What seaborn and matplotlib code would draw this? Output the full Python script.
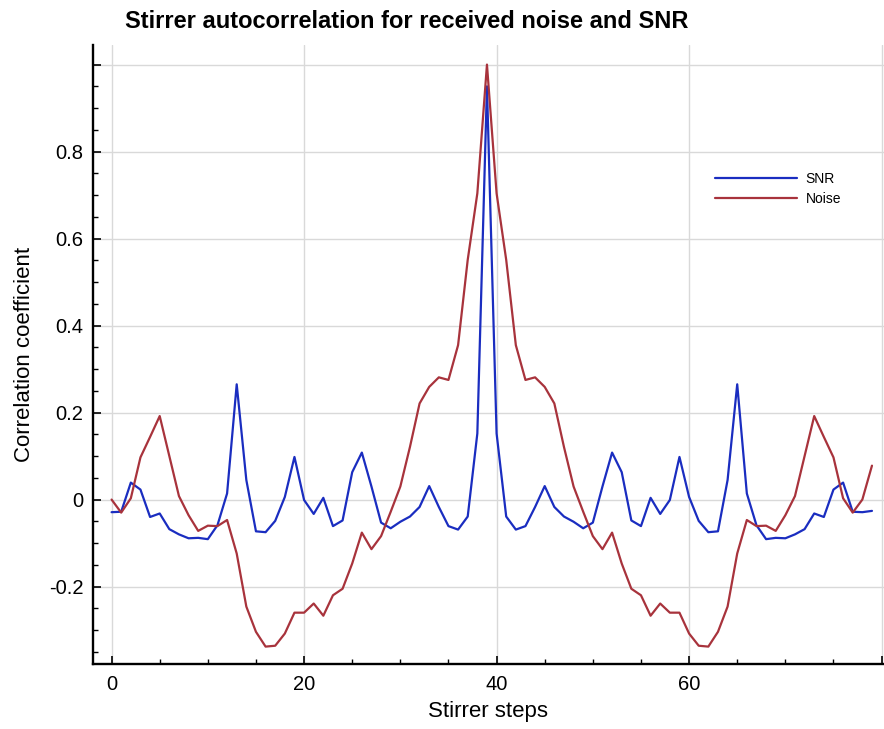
import numpy as np
import pandas as pd
import matplotlib
matplotlib.use("Agg")
import matplotlib.pyplot as plt
from matplotlib.ticker import MultipleLocator
import seaborn as sns

# Autocorrelation versus stirrer step offset
steps = list(range(80))

snr = [
    -0.029, -0.028, 0.039, 0.023, -0.040, -0.032, -0.068, -0.080, -0.089, -0.088,
    -0.091, -0.059, 0.014, 0.265, 0.045, -0.073, -0.075, -0.049, 0.006, 0.098,
    -0.001, -0.033, 0.004, -0.061, -0.048, 0.063, 0.108, 0.030, -0.053, -0.066,
    -0.051, -0.039, -0.017, 0.031, -0.017, -0.061, -0.069, -0.039, 0.152, 0.950,
    0.152, -0.039, -0.069, -0.061, -0.017, 0.031, -0.017, -0.039, -0.051, -0.066,
    -0.053, 0.030, 0.108, 0.063, -0.048, -0.061, 0.004, -0.033, -0.001, 0.098,
    0.006, -0.049, -0.075, -0.073, 0.045, 0.265, 0.014, -0.059, -0.091, -0.088,
    -0.089, -0.080, -0.068, -0.032, -0.040, 0.023, 0.039, -0.028, -0.029, -0.026,
]

noise = [
    0.000, -0.030, 0.003, 0.097, 0.144, 0.192, 0.100, 0.008, -0.036, -0.072,
    -0.060, -0.061, -0.047, -0.124, -0.246, -0.304, -0.338, -0.336, -0.308, -0.260,
    -0.260, -0.239, -0.267, -0.220, -0.205, -0.147, -0.076, -0.114, -0.084, -0.028,
    0.030, 0.121, 0.221, 0.259, 0.281, 0.275, 0.355, 0.551, 0.704, 1.000,
    0.704, 0.551, 0.355, 0.275, 0.281, 0.259, 0.221, 0.121, 0.030, -0.028,
    -0.084, -0.114, -0.076, -0.147, -0.205, -0.220, -0.267, -0.239, -0.260, -0.260,
    -0.308, -0.336, -0.338, -0.304, -0.246, -0.124, -0.047, -0.061, -0.060, -0.072,
    -0.036, 0.008, 0.100, 0.192, 0.144, 0.097, 0.003, -0.030, 0.000, 0.078,
]

series_names = ["SNR", "Noise"]
series_colors = {"SNR": "#1a2dc0", "Noise": "#a8333c"}

x_ticks = [0, 20, 40, 60, 80]
x_tick_labels = ["0", "20", "40", "60", ""]
y_ticks = [-0.2, 0.0, 0.2, 0.4, 0.6, 0.8, 1.0]
y_tick_labels = ["-0.2", "0", "0.2", "0.4", "0.6", "0.8", ""]

df = pd.concat([
    pd.DataFrame({"step": steps, "value": snr, "series": "SNR"}),
    pd.DataFrame({"step": steps, "value": noise, "series": "Noise"}),
], ignore_index=True)

sns.set_style("white")
plt.rcParams["font.family"] = ["Liberation Sans", "DejaVu Sans"]
plt.rcParams.update({
    "text.color": "black",
    "axes.labelcolor": "black",
    "xtick.color": "black",
    "ytick.color": "black",
})

fig = plt.figure(figsize=(8.84, 7.29), dpi=100)
ax = fig.add_axes([93 / 884, 65 / 729, 791 / 884, 619 / 729])

sns.lineplot(data=df, x="step", y="value", hue="series", hue_order=series_names,
             palette=series_colors, linewidth=1.6, ax=ax, legend=True)

ax.set_xlim(-1.93, 80.25)
ax.set_ylim(-0.378, 1.045)

ax.set_xticks(x_ticks)
ax.set_xticklabels(x_tick_labels)
ax.set_yticks(y_ticks)
ax.set_yticklabels(y_tick_labels)
ax.xaxis.set_minor_locator(MultipleLocator(5))
ax.yaxis.set_minor_locator(MultipleLocator(0.05))

ax.grid(True, which="major", color="#d9d9d9", linewidth=1.0)
ax.set_axisbelow(True)

for side in ["top", "right"]:
    ax.spines[side].set_visible(False)
for side in ["left", "bottom"]:
    ax.spines[side].set_color("black")
    ax.spines[side].set_linewidth(1.7)

ax.tick_params(which="major", direction="in", length=6, width=1.2, color="black",
               labelsize=14.5, bottom=True, left=True)
ax.tick_params(axis="y", which="major", pad=7)
ax.tick_params(axis="x", which="major", pad=8)
ax.tick_params(which="minor", direction="in", length=3.5, width=1.0, color="black",
               bottom=True, left=True)

ax.set_xlabel("Stirrer steps", fontsize=16, va="center")
ax.xaxis.set_label_coords(0.5, -0.0775)
ax.set_ylabel("Correlation coefficient", fontsize=16, va="center")
ax.yaxis.set_label_coords(-0.087, 0.5)

handles, labels = ax.get_legend_handles_labels()
ax.legend(handles, labels, loc="upper left", bbox_to_anchor=(0.786, 0.795),
          frameon=False, fontsize=10, handlelength=5.9, handletextpad=0.65,
          labelspacing=0.42, borderpad=0, borderaxespad=0)

fig.text(125 / 884, 1 - 28 / 729, "Stirrer autocorrelation for received noise and SNR",
         fontsize=17, fontweight="bold", ha="left", va="baseline")

fig.savefig("out.png", dpi=100)
